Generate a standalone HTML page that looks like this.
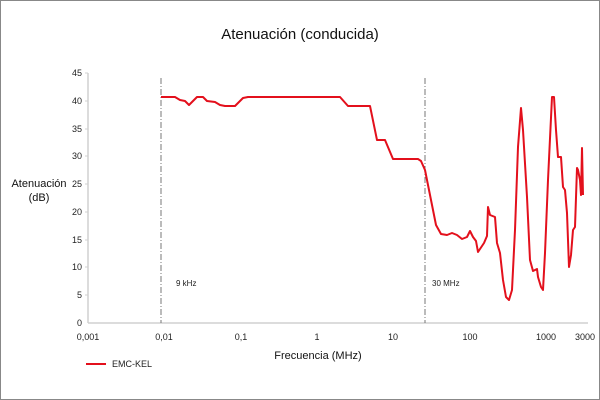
<!DOCTYPE html>
<html><head><meta charset="utf-8"><style>
body{margin:0;background:#fff}
svg{display:block;font-family:"Liberation Sans",sans-serif}
</style></head><body>
<svg width="600" height="400" viewBox="0 0 600 400">
<rect x="0.5" y="0.5" width="599" height="399" fill="#fff" stroke="#888"/>
<text x="300" y="39" font-size="15" text-anchor="middle" fill="#111">Atenuación (conducida)</text>
<line x1="88" y1="73" x2="88" y2="323" stroke="#d0d0d0" stroke-width="1.5"/>
<line x1="88" y1="323" x2="588" y2="323" stroke="#d0d0d0" stroke-width="1.5"/>
<g stroke="#d0d0d0">
<line x1="85" y1="73" x2="88" y2="73"/><line x1="85" y1="101" x2="88" y2="101"/><line x1="85" y1="129" x2="88" y2="129"/><line x1="85" y1="156" x2="88" y2="156"/><line x1="85" y1="184" x2="88" y2="184"/><line x1="85" y1="212" x2="88" y2="212"/><line x1="85" y1="240" x2="88" y2="240"/><line x1="85" y1="267" x2="88" y2="267"/><line x1="85" y1="295" x2="88" y2="295"/>
</g>
<g font-size="9" text-anchor="end" fill="#222">
<text x="82" y="76">45</text><text x="82" y="104">40</text><text x="82" y="132">35</text><text x="82" y="159">30</text><text x="82" y="187">25</text><text x="82" y="215">20</text><text x="82" y="243">15</text><text x="82" y="270">10</text><text x="82" y="298">5</text><text x="82" y="326">0</text>
</g>
<g font-size="9" text-anchor="middle" fill="#222">
<text x="88" y="340">0,001</text><text x="164" y="340">0,01</text><text x="241" y="340">0,1</text><text x="317" y="340">1</text><text x="393" y="340">10</text><text x="470" y="340">100</text><text x="546" y="340">1000</text><text x="585" y="340">3000</text>
</g>
<text x="39" y="187" font-size="11" text-anchor="middle" fill="#111">Atenuación</text>
<text x="39" y="201" font-size="11" text-anchor="middle" fill="#111">(dB)</text>
<text x="318" y="359" font-size="11" text-anchor="middle" fill="#111">Frecuencia (MHz)</text>
<g stroke="#777" stroke-dasharray="6,2,1,2" stroke-width="1">
<line x1="161" y1="78" x2="161" y2="323"/><line x1="425" y1="78" x2="425" y2="323"/>
</g>
<text x="176" y="286" font-size="8" fill="#222">9 kHz</text>
<text x="432" y="286" font-size="8" fill="#222">30 MHz</text>
<polyline fill="none" stroke="#e3101c" stroke-width="2" stroke-linejoin="round" points="161,97 175,97 180,100 185,101 189,105 193,101 197,97 203,97 207,101 215,102 220,105 225,106 235,106 243,98 248,97 340,97 348,106 370,106 377,140 385,140 393,159 418,159 421,161 425,170 428,185 432,205 436,225 441,234 447,235 452,233 457,235 462,239 467,237 470,231 473,237 476,241 478,252 482,246 484,243 487,236 488,207 490,215 495,217 497,243 500,253 503,280 506,297 509,300 512,290 515,230 518,147 521,108 523,130 527,197 530,260 533,271 537,269 538,277 541,287 543,290 545,253 548,180 552,97 554,97 556,130 558,157 561,157 563,187 565,190 567,213 569,267 571,255 573,230 575,227 577,168 578,170 580,180 581,195 582,148 583,195"/>
<line x1="86" y1="364" x2="106" y2="364" stroke="#e3101c" stroke-width="2"/>
<text x="112" y="367" font-size="9" fill="#222">EMC-KEL</text>
</svg>
</body></html>
